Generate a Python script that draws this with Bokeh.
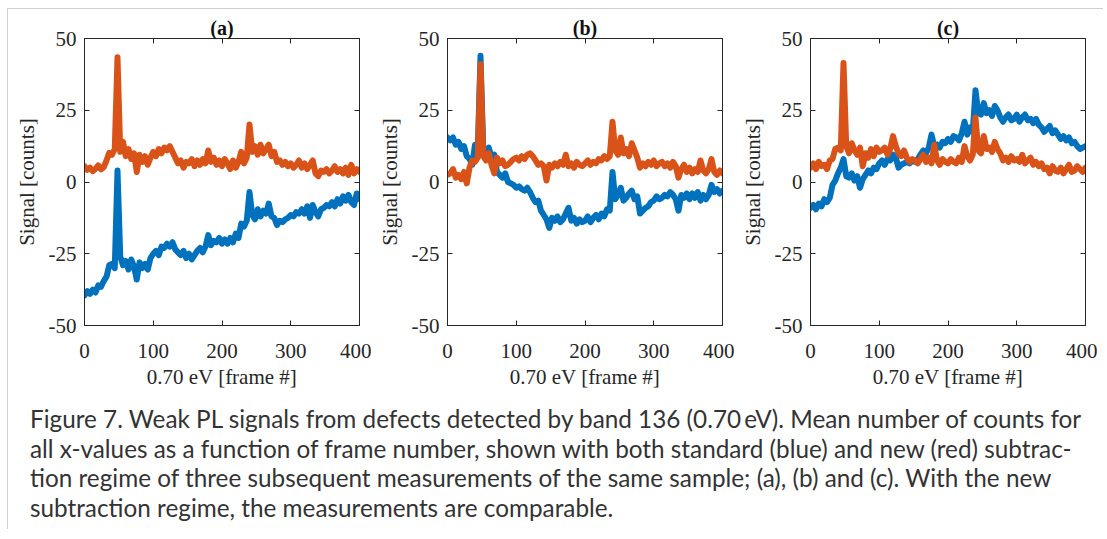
from bokeh.plotting import figure
from bokeh.models import Range1d, FixedTicker, LinearAxis, Div, ColumnDataSource
from bokeh.layouts import row, column
from bokeh.embed import file_html
from bokeh.resources import INLINE

# ---------------- data ----------------
frames = list(range(0, 401, 4))  # frame numbers (sampled every 4 frames)

a_standard = [
    -39.5, -38.0, -39.0, -37.5, -38.5, -36.0, -36.5, -34.5, -33.0, -29.0,
    -28.5, -30.0, 4.0, -26.0, -29.0, -27.5, -30.5, -27.0, -29.5, -34.0,
    -28.0, -30.0, -28.5, -30.5, -26.5, -25.0, -24.0, -25.5, -22.5, -23.0,
    -21.5, -22.5, -21.0, -23.5, -24.5, -25.5, -24.0, -26.5, -25.0, -27.0,
    -25.5, -24.0, -23.0, -24.5, -22.5, -18.5, -22.0, -20.5, -21.0, -19.5,
    -21.5, -20.0, -21.5, -19.5, -21.0, -18.0, -19.5, -14.5, -15.5, -13.5,
    -3.5, -11.5, -13.0, -9.5, -12.0, -10.0, -11.0, -7.5, -12.0, -12.5,
    -15.0, -13.5, -14.0, -13.0, -12.5, -11.5, -12.0, -10.5, -11.0, -9.5,
    -11.0, -8.5, -12.5, -8.0, -10.5, -12.0, -9.5, -9.0, -8.0, -8.5,
    -7.0, -8.5, -6.0, -7.5, -5.0, -6.5, -4.5, -7.0, -8.0, -4.0,
    -6.0,
]
a_new = [
    5.5, 4.2, 5.0, 3.8, 4.6, 5.8, 4.4, 5.2, 7.5, 10.2,
    9.5, 11.5, 43.5, 10.5, 14.0, 9.0, 11.5, 8.0, 10.0, 3.5,
    9.5, 7.0, 9.0, 6.0, 8.5, 10.5, 9.0, 11.5, 10.0, 12.0,
    11.0, 12.5, 10.5, 8.5, 6.5, 7.5, 5.0, 7.0, 6.5, 8.0,
    5.5, 7.5, 6.0, 8.0, 6.5, 11.0, 7.0, 8.5, 6.0, 7.5,
    5.5, 8.0, 6.5, 4.5, 7.5, 5.0, 7.0, 10.5, 6.5, 8.5,
    20.0, 10.5, 12.5, 9.5, 13.0, 10.0, 11.5, 13.0, 9.0, 10.5,
    7.0, 7.5, 6.0, 7.0, 5.5, 6.5, 5.0, 6.0, 7.5, 5.0,
    6.5, 4.5, 6.0, 7.5, 3.0, 2.0, 4.0, 3.5, 4.5, 3.0,
    4.0, 5.5, 3.5, 4.5, 3.0, 5.0, 2.5, 6.0, 3.0, 4.5,
    3.5,
]

b_standard = [
    15.5, 14.5, 15.5, 13.0, 14.0, 11.5, 12.5, 9.0, 8.0, 6.0,
    13.0, 11.0, 44.0, 11.5, 10.0, 12.0, 8.5, 9.5, 3.5, 2.5,
    1.5, 3.0, 0.0, -0.5, -1.0, -2.0, -1.5, -2.5, -3.0, -2.0,
    -3.5, -5.5, -7.0, -6.5, -10.0, -11.5, -13.0, -16.0, -12.5, -13.5,
    -12.0, -14.0, -13.0, -11.0, -9.0, -13.5, -12.5, -14.5, -13.0, -14.0,
    -13.5, -12.0, -14.0, -12.5, -11.5, -13.0, -11.0, -12.0, -9.5, -10.0,
    3.5, -6.0, -4.5, -2.0, -6.5, -5.5, -4.0, -3.0, -6.0, -5.0,
    -11.0, -10.0, -9.0, -8.5, -7.0, -6.5, -5.0, -6.0, -5.5, -4.5,
    -5.0, -3.5, -4.5, -6.0, -10.0, -4.5, -5.5, -4.0, -6.0, -4.0,
    -5.5, -3.5, -6.5, -4.5, -6.0, -4.5, -1.0, -3.5, -2.5, -4.0,
    -3.0,
]
b_new = [
    2.5, 3.0, 4.5, 1.5, 2.5, 1.0, 3.5, -0.5, 5.0, 7.5,
    7.0, 8.5, 41.0, 9.0, 7.5, 10.0, 6.0, 3.0, 8.5, 6.5,
    7.5, 5.5, 6.0, 7.0, 8.0, 8.5, 7.5, 9.0, 8.0, 9.5,
    10.0, 9.0, 7.5, 6.0, 6.5, 5.5, 0.5, 6.0, 5.0, 6.5,
    5.5, 7.0, 6.0, 9.5, 5.5, 6.5, 5.0, 7.0, 6.0, 5.5,
    6.5, 7.5, 6.0, 7.0, 6.5, 8.0, 7.5, 9.0, 8.0, 9.0,
    21.0, 11.0, 9.5, 15.5, 10.0, 11.5, 9.0, 13.5, 11.0, 8.5,
    5.0, 6.5, 5.5, 7.0, 6.0, 7.5, 5.5, 6.5, 7.0, 5.5,
    6.5, 5.0, 7.0, 5.5, 1.5, 4.5, 6.0, 3.5, 5.0, 3.0,
    4.5, 3.5, 7.5, 4.0, 3.0, 4.5, 8.0, 3.5, 2.5, 4.0,
    3.0,
]

c_standard = [
    -9.0, -8.0, -9.5, -7.5, -8.5, -6.0, -7.0, -5.5, -1.0, 0.5,
    3.0, 5.0, 8.0, 2.0, 1.5, 3.0, 0.5, 2.0, -2.0, 1.0,
    2.5, 4.0, 3.0, 5.0, 4.5, 6.5, 7.5, 6.0, 8.0, 7.5,
    9.5, 8.5, 5.0, 6.0, 6.5, 7.0, 6.5, 7.5, 7.0, 8.0,
    9.5, 11.0, 10.0, 12.0, 16.5, 12.5, 13.0, 12.0, 14.0, 13.5,
    15.0, 14.0, 16.0, 15.5, 14.5, 17.0, 21.0, 16.5, 19.0, 17.5,
    32.0, 24.0, 23.5, 27.5, 24.0, 25.0, 23.0, 26.5, 25.0, 22.5,
    21.0, 22.5, 23.5, 21.5, 22.0, 23.5, 21.0, 22.5, 23.5, 21.5,
    22.0, 20.5, 22.0, 20.0, 19.0, 17.5, 18.5, 19.5, 17.0, 18.0,
    16.5, 15.0, 16.0, 14.5, 15.5, 13.5, 14.0, 12.5, 11.5, 12.0,
    12.5,
]
c_new = [
    5.0, 6.5, 4.5, 7.0, 5.5, 6.0, 4.5, 7.5, 8.0, 11.5,
    12.0, 11.0, 41.5, 12.5, 10.0, 13.5, 11.0, 9.5, 12.0, 5.5,
    10.0, 8.5, 11.5, 9.0, 12.0, 10.5, 11.0, 12.0, 9.5, 11.5,
    16.0, 12.5, 10.0, 9.0, 11.0, 8.5, 7.0, 8.0, 7.5, 6.5,
    8.0, 9.5, 7.0, 8.5, 6.5, 13.0, 7.5, 6.0, 8.0, 7.0,
    6.5, 8.0, 7.0, 6.5, 8.5, 7.0, 12.5, 9.0, 7.5, 9.5,
    22.5, 11.0, 10.0, 16.0, 11.5, 12.0, 10.5, 14.0, 11.5, 10.0,
    7.5, 8.5, 7.0, 9.0, 7.5, 8.0, 7.0, 9.5, 6.5, 7.5,
    8.5, 6.0, 7.0, 5.5, 6.5, 4.5, 5.0, 3.0, 5.5, 4.0,
    3.5, 5.0, 3.0, 4.5, 6.0, 3.5, 4.0, 5.5, 4.5, 3.5,
    5.0,
]

panel_titles = ["(a)", "(b)", "(c)"]
standard_series = [a_standard, b_standard, c_standard]
new_series = [a_new, b_new, c_new]
x_ticks = [0, 100, 200, 300, 400]
y_ticks = [-50, -25, 0, 25, 50]
y_tick_labels = {-50: "-50", -25: "-25", 0: "0", 25: "25", 50: "50"}
x_label = "0.70 eV [frame #]"
y_label = "Signal [counts]"
caption_lines = [
    "Figure 7. Weak PL signals from defects detected by band 136 (0.70\u2009eV). Mean number of counts for",
    "all x-values as a function of frame number, shown with both standard (blue) and new (red) subtrac-",
    "tion regime of three subsequent measurements of the same sample; (a), (b) and (c). With the new",
    "subtraction regime, the measurements are comparable.",
]

BLUE = "#0072BD"
ORANGE = "#D95319"
AX = "#262626"
SERIF = "Liberation Serif"


def style_axis(ax, show_labels):
    ax.axis_line_color = AX
    ax.major_tick_line_color = AX
    ax.major_tick_in = 5
    ax.major_tick_out = 0
    ax.minor_tick_line_color = None
    ax.major_label_text_font = SERIF
    ax.major_label_text_color = AX
    ax.axis_label_text_font = SERIF
    ax.axis_label_text_font_style = "normal"
    ax.axis_label_text_color = AX
    ax.axis_label_text_font_size = "21px"
    if show_labels:
        ax.major_label_text_font_size = "21px"
    else:
        ax.major_label_text_font_size = "0px"
        ax.major_label_text_color = None
        ax.major_label_standoff = 0


def make_panel(title, std, new):
    src = ColumnDataSource(dict(frame=frames, std=std, new=new))
    p = figure(
        frame_width=275, frame_height=287,
        x_range=Range1d(0, 400), y_range=Range1d(-50, 50),
        output_backend="svg", toolbar_location=None,
        min_border_left=76, min_border_right=12,
        min_border_top=31, min_border_bottom=79,
        background_fill_color="white", border_fill_alpha=0,
    )
    p.grid.visible = False
    p.outline_line_color = AX
    p.outline_line_width = 1

    p.xaxis.ticker = FixedTicker(ticks=x_ticks)
    p.yaxis.ticker = FixedTicker(ticks=y_ticks)
    for ax in p.xaxis + p.yaxis:
        style_axis(ax, True)
    p.yaxis.major_label_overrides = y_tick_labels
    p.xaxis.axis_label = x_label
    p.yaxis.axis_label = y_label
    p.xaxis.major_label_standoff = 18
    p.yaxis.major_label_standoff = 8
    p.xaxis.axis_label_standoff = 4
    p.yaxis.axis_label_standoff = 7

    top = LinearAxis(ticker=FixedTicker(ticks=x_ticks))
    right = LinearAxis(ticker=FixedTicker(ticks=y_ticks))
    for ax in (top, right):
        style_axis(ax, False)
    p.add_layout(top, "above")
    p.add_layout(right, "right")

    p.title.text = title
    p.title.align = "center"
    p.title.text_font = SERIF
    p.title.text_font_style = "bold"
    p.title.text_font_size = "20px"
    p.title.text_color = "#111111"
    p.title.standoff = 0

    p.line("frame", "std", source=src, line_color=BLUE, line_width=6,
           line_join="round", line_cap="round")
    p.line("frame", "new", source=src, line_color=ORANGE, line_width=6,
           line_join="round", line_cap="round")
    return p


panels = [make_panel(t, s, n) for t, s, n in zip(panel_titles, standard_series, new_series)]

caption_html = (
    '<div style="font-family: Lato, sans-serif; font-size: 24.3px; line-height: 29.5px; '
    'color: #333333; white-space: nowrap; padding-left: 22px;">'
    + "<br>".join(caption_lines)
    + "</div>"
)
caption = Div(text=caption_html, width=1095, height=125, margin=(0, 0, 0, 0))

layout = column(
    row(*panels, margin=(-2, 0, 0, 0)),
    caption,
    margin=(8, 0, 0, 7),
    styles={"border-top": "1px solid #d0d0d0", "border-left": "1px solid #d0d0d0"},
)

with open("out.html", "w") as f:
    f.write(file_html(layout, INLINE))
